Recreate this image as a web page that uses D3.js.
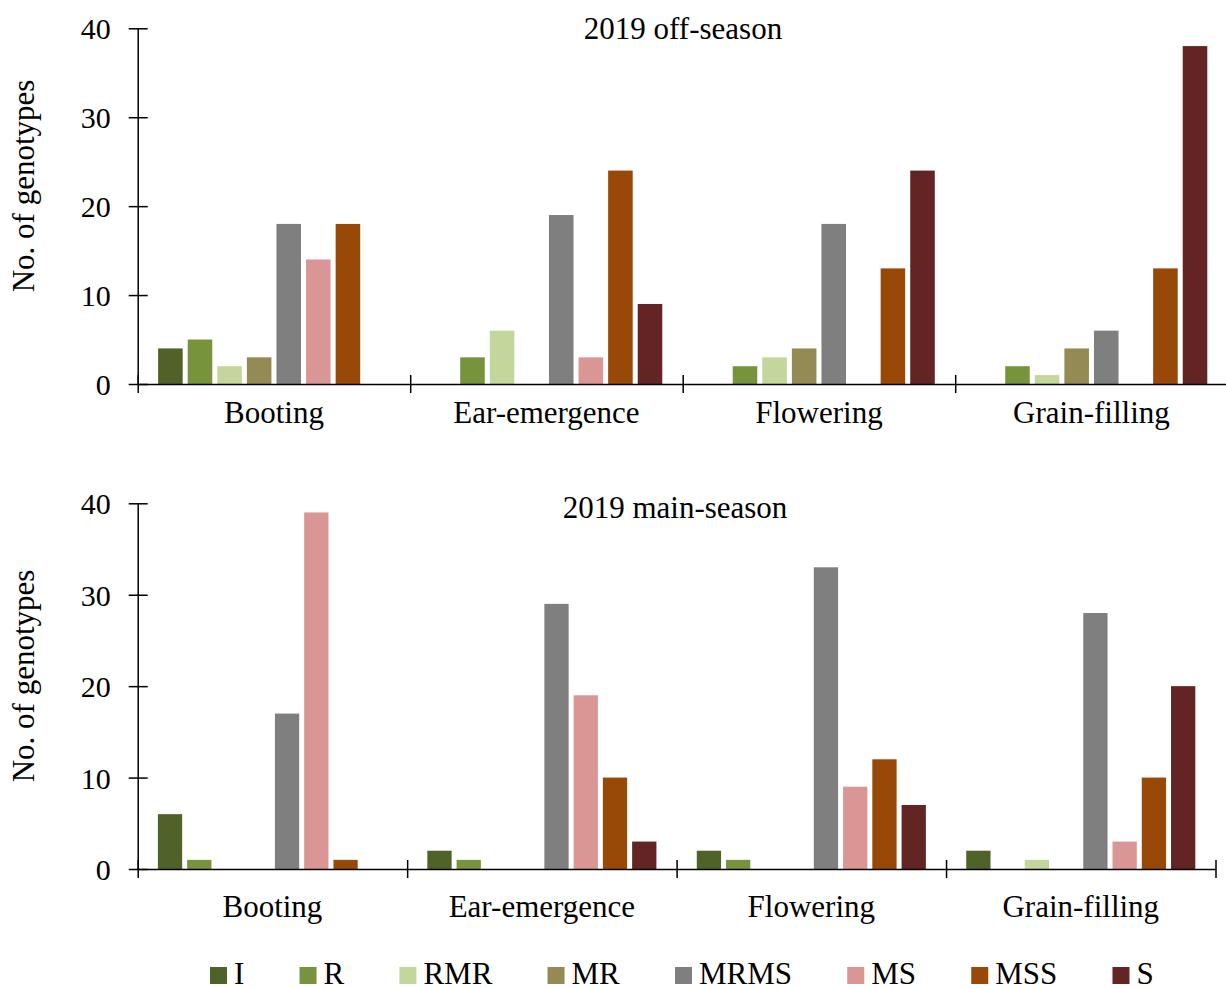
<!DOCTYPE html>
<html>
<head>
<meta charset="utf-8">
<script src="https://cdn.jsdelivr.net/npm/d3@7"></script>
<style>
  body { margin: 0; background: #fff; }
  svg text { font-family: "Liberation Serif", "Times New Roman", serif; fill: #000; }
</style>
</head>
<body>
<script>
// stages on the x axis, resistance classes as the series
var stages = ["Booting", "Ear-emergence", "Flowering", "Grain-filling"];
var classes = ["I", "R", "RMR", "MR", "MRMS", "MS", "MSS", "S"];
var colors = ["#4f6228", "#77933c", "#c3d69b", "#948a54", "#7f7f7f", "#d99694", "#984807", "#632523"];
var yTicks = [0, 10, 20, 30, 40];

// one row per stage, values in class order
var offSeason = [
  [4, 5, 2, 3, 18, 14, 18, 0],
  [0, 3, 6, 0, 19, 3, 24, 9],
  [0, 2, 3, 4, 18, 0, 13, 24],
  [0, 2, 1, 4, 6, 0, 13, 38]
];
var mainSeason = [
  [6, 1, 0, 0, 17, 39, 1, 0],
  [2, 1, 0, 0, 29, 19, 10, 3],
  [2, 1, 0, 0, 33, 9, 12, 7],
  [2, 0, 1, 0, 28, 3, 10, 20]
];

var width = 1226, height = 988;
var svg = d3.select("body").append("svg")
  .attr("width", width)
  .attr("height", height);

var panels = [
  {title: "2019 off-season", data: offSeason, x0: 137.7, x1: 1227.7, y0: 384, y1: 28.3,
   titleX: 683, titleY: 39, labelDy: 39, yLabelY: 186},
  {title: "2019 main-season", data: mainSeason, x0: 137.7, x1: 1215.5, y0: 869, y1: 503.3,
   titleX: 675, titleY: 518, labelDy: 48, yLabelY: 676}
];

panels.forEach(function(p) {
  var y = d3.scaleLinear().domain([0, 40]).range([p.y0, p.y1]);
  var x = d3.scaleBand().domain(stages).range([p.x0, p.x1]);
  var xs = d3.scaleBand().domain(classes)
    .range([0, x.bandwidth()])
    .paddingInner(0.17)
    .paddingOuter(0.69);
  var edge = d3.scaleLinear().domain([0, stages.length]).range([p.x0, p.x1]);

  var g = svg.append("g");

  // bars, zero values are simply not drawn
  var groups = g.selectAll(".stage")
    .data(p.data)
    .enter().append("g")
    .attr("class", "stage")
    .attr("transform", function(d, i) { return "translate(" + x(stages[i]) + ",0)"; });
  groups.selectAll("rect")
    .data(function(d) {
      return d.map(function(v, i) { return {cls: classes[i], color: colors[i], value: v}; })
              .filter(function(e) { return e.value > 0; });
    })
    .enter().append("rect")
    .attr("x", function(d) { return xs(d.cls); })
    .attr("y", function(d) { return y(d.value); })
    .attr("width", xs.bandwidth())
    .attr("height", function(d) { return y(0) - y(d.value); })
    .attr("fill", function(d) { return d.color; });

  // x axis with ticks between stages
  var xAxis = g.append("g")
    .attr("transform", "translate(0," + p.y0 + ")")
    .call(d3.axisBottom(edge).tickValues(d3.range(stages.length + 1)).tickFormat("").tickSizeOuter(0));
  xAxis.select(".domain").attr("stroke", "#000").attr("stroke-width", 1.5);
  xAxis.selectAll(".tick line").attr("y1", -9).attr("y2", 9).attr("stroke-width", 1.5);

  g.selectAll(".stage-label")
    .data(stages)
    .enter().append("text")
    .attr("x", function(d) { return x(d) + x.bandwidth() / 2; })
    .attr("y", p.y0 + p.labelDy)
    .attr("text-anchor", "middle")
    .style("font-size", "31px")
    .text(function(d) { return d; });

  // y axis
  var yAxis = g.append("g")
    .attr("transform", "translate(" + p.x0 + ",0)")
    .call(d3.axisLeft(y).tickValues(yTicks).tickSize(0).tickSizeOuter(0));
  yAxis.select(".domain").attr("stroke", "#000").attr("stroke-width", 1.5);
  yAxis.selectAll(".tick line").attr("x1", -9).attr("x2", 10).attr("stroke", "#000").attr("stroke-width", 1.5);
  yAxis.selectAll(".tick text")
    .attr("x", -27)
    .attr("dy", "0.35em")
    .style("font-size", "30px")
    .style("font-family", "'Liberation Serif', 'Times New Roman', serif");

  g.append("text")
    .attr("transform", "translate(34," + p.yLabelY + ") rotate(-90)")
    .attr("text-anchor", "middle")
    .style("font-size", "31px")
    .text("No. of genotypes");

  g.append("text")
    .attr("x", p.titleX)
    .attr("y", p.titleY)
    .attr("text-anchor", "middle")
    .style("font-size", "31px")
    .text(p.title);
});

// legend
var legend = svg.append("g").attr("transform", "translate(210,0)");
var lx = 0;
classes.forEach(function(c, i) {
  legend.append("rect")
    .attr("x", lx)
    .attr("y", 967)
    .attr("width", 17)
    .attr("height", 17)
    .attr("fill", colors[i]);
  var t = legend.append("text")
    .attr("x", lx + 24)
    .attr("y", 984)
    .style("font-size", "31px")
    .text(c);
  lx += 24 + t.node().getComputedTextLength() + 55.2;
});
</script>
</body>
</html>
